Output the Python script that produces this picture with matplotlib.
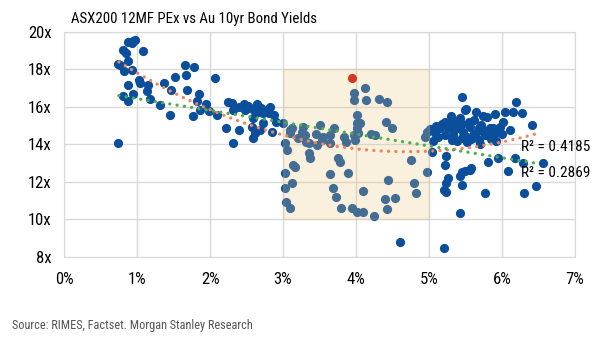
import numpy as np
import matplotlib.pyplot as plt
from matplotlib.patches import Rectangle

plt.rcParams['font.family'] = ['Roboto Condensed', 'Liberation Sans Narrow', 'Roboto', 'DejaVu Sans']

# bond yield (%) and 12MF PE (x) pairs
bond_yield = [
    0.74, 0.74, 0.77, 0.80, 0.82, 0.85, 0.87, 0.88, 0.93, 0.95, 0.97, 0.93, 1.08, 1.02, 0.88, 1.04,
    0.95, 0.81, 0.87, 1.15, 1.14, 1.18, 1.31, 1.37, 1.46, 1.52, 1.66, 1.67, 1.78, 1.69, 1.45, 1.85,
    1.82, 1.95, 1.86, 1.77, 1.98, 2.09, 2.07, 2.22, 2.25,
    2.30, 2.31, 2.46, 2.48, 2.64, 2.66, 2.82, 2.81, 2.59, 2.57, 2.73, 2.59, 2.62, 2.39, 2.32, 2.55,
    2.73, 2.87, 2.68, 2.52, 2.70, 2.60, 2.78, 2.40, 2.90, 2.85,
    3.00, 3.12, 3.09, 3.03, 3.05, 3.10, 3.26, 3.32, 3.28, 3.30, 3.35, 3.46, 3.51, 3.55, 3.53, 3.64,
    3.64, 3.83, 3.87, 3.35, 3.37, 3.76, 3.78, 3.14, 3.16, 3.03, 3.12, 3.03, 3.04, 3.09, 3.65, 3.89,
    3.69, 3.73, 3.79, 3.94, 4.02,
    3.97, 3.97, 4.02, 4.01, 3.97, 4.12, 4.14, 4.32, 4.42, 4.05, 4.01, 4.03, 3.99, 4.21, 4.26, 4.41,
    4.50, 4.76, 4.44, 4.79, 4.82, 4.10, 4.40, 4.53, 4.42, 4.10, 4.25, 4.95, 4.98, 4.98, 3.70, 3.45,
    3.20,
    4.60, 5.01, 5.04, 5.46, 5.49, 5.64, 5.74, 5.22, 5.31, 5.38, 5.15, 5.26, 5.08, 5.22, 5.33, 5.47,
    5.56, 5.68, 5.72, 5.61, 5.45, 5.31, 5.52, 5.68, 5.79, 5.81, 5.24, 5.22, 5.45, 5.49, 5.56, 5.58,
    5.42, 5.26, 5.24, 5.20, 5.23, 5.45, 5.77, 5.42, 5.20,
    6.20, 6.15, 6.27, 6.04, 6.41, 5.90, 5.79, 6.02, 5.97, 6.11, 5.84, 5.90, 5.77, 5.95, 6.09, 6.29,
    6.56, 6.47, 6.30, 6.18, 5.51,
    5.10, 5.18, 5.35, 5.40, 5.50, 5.58, 5.65, 5.75, 5.85, 5.92, 5.30, 5.42, 5.55, 5.62, 5.13, 5.05,
    5.38, 5.70, 5.88, 6.00, 5.27, 5.46,
]
pe_ratio = [
    14.08, 18.30, 18.22, 19.06, 17.90, 18.88, 18.44, 19.47, 19.41, 19.54, 19.59, 17.99, 19.00, 17.46, 17.16, 17.26,
    16.69, 16.57, 16.30, 17.19, 16.84, 16.44, 16.09, 17.28, 16.92, 17.58, 18.22, 17.72, 18.12, 16.92, 15.56, 16.69,
    16.34, 16.16, 15.86, 15.50, 15.80, 15.56, 17.55, 14.88, 16.27,
    16.23, 15.84, 16.16, 15.84, 16.16, 15.75, 16.02, 15.66, 15.40, 14.95, 15.13, 14.33, 14.60, 14.77, 14.10, 15.93,
    15.66, 15.57, 14.77, 16.05, 15.95, 15.85, 15.85, 16.00, 15.20, 14.65,
    15.13, 14.86, 14.60, 14.06, 13.70, 14.77, 14.68, 14.15, 14.95, 14.50, 14.06, 13.97, 15.04, 14.42, 14.24, 14.50,
    14.06, 14.42, 14.15, 13.53, 13.26, 13.26, 13.08, 12.90, 12.80, 12.46, 11.93, 11.66, 10.95, 10.60, 12.41, 12.46,
    11.66, 11.22, 10.63, 10.63, 10.38,
    16.73, 16.37, 15.57, 15.13, 14.50, 17.03, 16.37, 16.41, 16.28, 15.13, 14.86, 14.60, 14.24, 14.54, 14.50, 15.22,
    14.86, 13.17, 12.11, 11.93, 11.40, 11.52, 11.09, 11.16, 10.56, 10.38, 10.20, 14.42, 14.68, 12.52, 14.90, 14.55,
    14.35,
    8.82, 14.83, 13.62, 16.55, 15.84, 15.72, 15.54, 15.22, 15.31, 15.04, 14.86, 14.86, 14.60, 14.50, 14.50, 14.68,
    14.95, 14.86, 15.04, 14.50, 14.33, 14.24, 14.15, 14.24, 14.50, 13.08, 13.40, 12.90, 12.52, 12.59, 12.64, 12.76,
    12.34, 12.20, 11.93, 11.57, 11.45, 11.84, 11.40, 10.33, 8.50,
    16.28, 15.75, 15.66, 15.75, 15.04, 15.61, 15.48, 15.22, 14.95, 14.77, 14.86, 14.60, 14.50, 13.30, 12.59, 13.00,
    13.03, 11.79, 11.43, 13.26, 15.88,
    15.00, 15.10, 14.75, 14.90, 14.45, 14.30, 14.60, 14.70, 14.30, 14.20, 15.50, 15.40, 15.20, 15.30, 14.40, 14.20,
    14.20, 14.00, 14.90, 14.55, 15.05, 15.10,
]

# latest reading
latest_yield = [3.95]
latest_pe = [17.53]

# 3-5% yield band, 10x-18x PE
band_yield = (3.0, 5.0)
band_pe = (10.0, 18.0)

# trendlines: 2nd order polynomial and linear
poly_coef = [0.3064, -2.882, 20.389]
poly_r2 = 0.4185
lin_coef = [-0.63, 17.07]
lin_r2 = 0.2869
trend_range = (0.75, 6.5)

x_ticks = [0, 1, 2, 3, 4, 5, 6, 7]
y_ticks = [8, 10, 12, 14, 16, 18, 20]

fig = plt.figure(figsize=(6, 3.43), dpi=100)
ax = fig.add_axes([0.107, 0.251, 0.851, 0.656])

ax.scatter(bond_yield, pe_ratio, s=44, color='#0b4f9c', linewidths=0, zorder=2)
ax.add_patch(Rectangle((band_yield[0], band_pe[0]), band_yield[1] - band_yield[0],
                       band_pe[1] - band_pe[0], facecolor='#efc77f', alpha=0.25,
                       edgecolor='#d9c090', linewidth=1, zorder=3))
ax.scatter(latest_yield, latest_pe, s=44, color='#d4381e', linewidths=0, zorder=4)

xs = np.linspace(trend_range[0], trend_range[1], 200)
dots = (0, (0.01, 2.2))
ax.plot(xs, np.polyval(poly_coef, xs), color='#f0845c', lw=2.4, linestyle=dots,
        dash_capstyle='round', zorder=5)
ax.plot(xs, np.polyval(lin_coef, xs), color='#4cae4f', lw=2.4, linestyle=dots,
        dash_capstyle='round', zorder=5)

ax.text(6.26, 13.84, 'R² = %.4f' % poly_r2, fontsize=11, va='center', ha='left',
        clip_on=False, zorder=6)
ax.text(6.26, 12.45, 'R² = %.4f' % lin_r2, fontsize=11, va='center', ha='left',
        clip_on=False, zorder=6)

ax.set_xlim(0, 7)
ax.set_ylim(8, 20)
ax.set_xticks(x_ticks)
ax.set_xticklabels(['%d%%' % t for t in x_ticks])
ax.set_yticks(y_ticks)
ax.set_yticklabels(['%dx' % t for t in y_ticks])
ax.tick_params(length=0, labelsize=12, pad=9)
ax.tick_params(axis='x', pad=11)
ax.grid(True, color='#d9d9d9', linewidth=1)
ax.set_axisbelow(True)
for s in ax.spines.values():
    s.set_color('#d9d9d9')

fig.text(0.118, 0.945, 'ASX200 12MF PEx vs Au 10yr Bond Yields', fontsize=10.7, ha='left', va='center')
fig.text(0.02, 0.05, 'Source: RIMES, Factset. Morgan Stanley Research', fontsize=8.8,
         color='#555555', ha='left', va='center')

fig.savefig('out.png', dpi=100)
